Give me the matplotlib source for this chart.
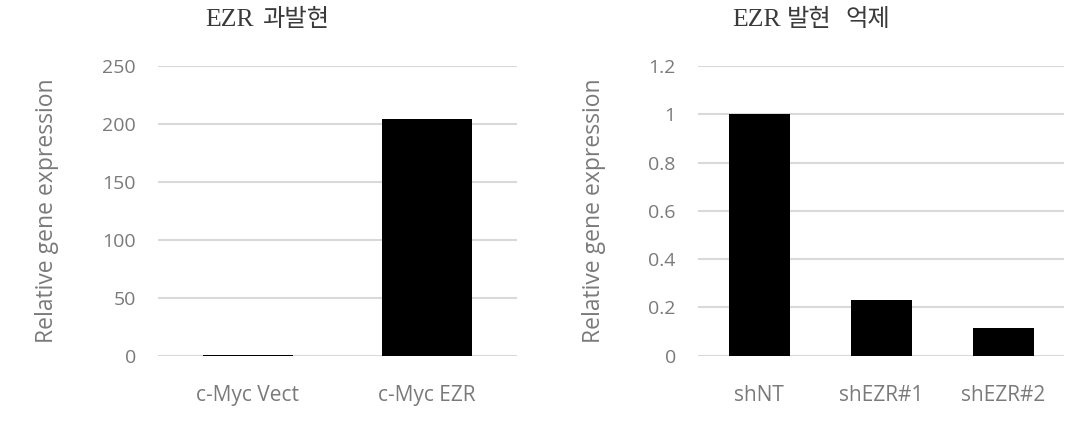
import matplotlib
matplotlib.use("Agg")
import matplotlib.pyplot as plt
from matplotlib.ticker import FuncFormatter

# ---- data ----
left_title_en = "EZR"
left_title_ko = ["과발현"]
left_categories = ["c-Myc Vect", "c-Myc EZR"]
left_values = [1.0, 204.0]
left_yticks = [0, 50, 100, 150, 200, 250]

right_title_en = "EZR"
right_title_ko = ["발현", "억제"]
right_categories = ["shNT", "shEZR#1", "shEZR#2"]
right_values = [1.0, 0.229, 0.116]
right_yticks = [0, 0.2, 0.4, 0.6, 0.8, 1.0, 1.2]

ylabel_text = "Relative gene expression"

plt.rcParams['font.family'] = ['Open Sans', 'Noto Sans CJK KR', 'DejaVu Sans']

W, H = 1075, 428
fig = plt.figure(figsize=(W / 100, H / 100), dpi=100)

tick_color = "#7a7a7a"
grid_color = "#d9d9d9"

def px_axes(x0, x1, ytop, ybot):
    return fig.add_axes([x0 / W, (H - ybot) / H, (x1 - x0) / W, (ybot - ytop) / H])

def style(ax, cats, vals, yticks, label_x):
    x = list(range(len(cats)))
    ax.bar(x, vals, width=0.5, color="black", zorder=3)
    ax.set_xlim(-0.5, len(cats) - 0.5)
    ax.set_ylim(yticks[0], yticks[-1])
    ax.set_yticks(yticks)
    ax.yaxis.set_major_formatter(FuncFormatter(lambda v, p: "%g" % v))
    ax.set_xticks(x)
    ax.set_xticklabels(cats)
    for s in ax.spines.values():
        s.set_visible(False)
    ax.grid(axis="y", color=grid_color, linewidth=1.5, zorder=0)
    ax.set_axisbelow(True)
    ax.tick_params(axis="both", length=0, labelcolor=tick_color)
    ax.tick_params(axis="y", pad=16, labelsize=14)
    ax.tick_params(axis="x", pad=21, labelsize=15)
    ax.set_ylabel(ylabel_text, fontsize=16.5, color="#7a7a7a", va="center")
    ax.yaxis.set_label_coords(label_x, 0.5)

ax1 = px_axes(158, 517, 66, 355.7)
style(ax1, left_categories, left_values, left_yticks, -0.309)

ax2 = px_axes(698, 1064, 66, 355.7)
style(ax2, right_categories, right_values, right_yticks, -0.285)

en_kw = dict(fontsize=18.5, color="#3a3a3a", ha="left", va="baseline",
             family=['Liberation Serif'])
ko_kw = dict(fontsize=17.5, color="#3a3a3a", ha="left", va="baseline",
             family=['Noto Sans CJK KR'])
base = 1 - 26 / H
fig.text(205 / W, base, left_title_en, **en_kw)
fig.text(262 / W, base, left_title_ko[0], **ko_kw)
fig.text(732 / W, base, right_title_en, **en_kw)
fig.text(787 / W, base, right_title_ko[0], **ko_kw)
fig.text(845 / W, base, right_title_ko[1], **ko_kw)

fig.savefig("out.png", dpi=100)
